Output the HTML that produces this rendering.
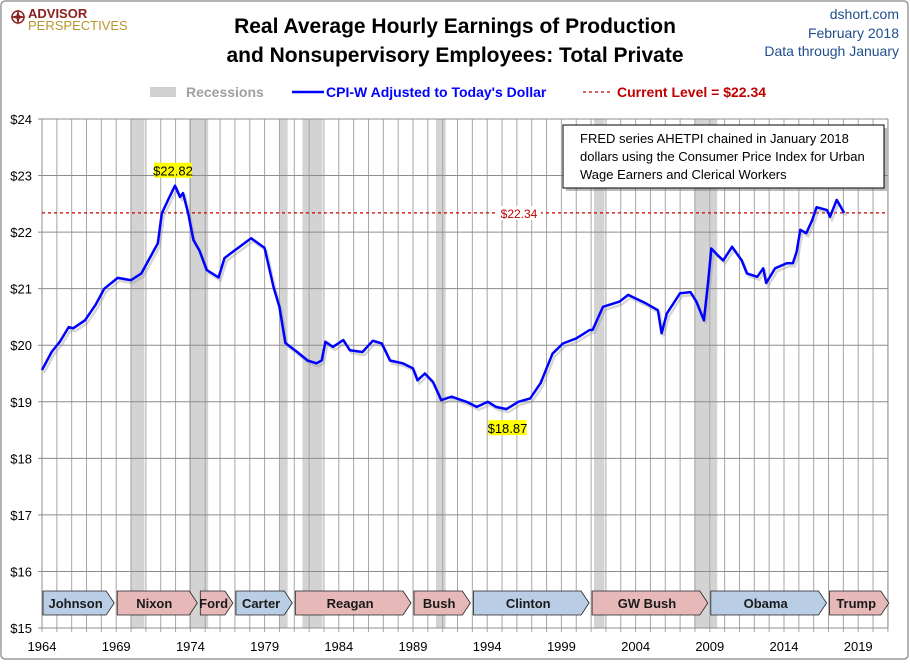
<!DOCTYPE html>
<html><head><meta charset="utf-8"><style>
body{margin:0;background:#fff;}
svg text{font-family:"Liberation Sans Narrow","Liberation Sans",sans-serif;}
</style></head><body>
<svg width="910" height="661" viewBox="0 0 910 661" xmlns="http://www.w3.org/2000/svg">
<rect x="1" y="1" width="907" height="658" fill="#fff" stroke="#9a9a9a" stroke-width="1.5" rx="4"/>
<g>
<circle cx="18" cy="17" r="6" fill="none" stroke="#8b2020" stroke-width="1.5"/>
<path d="M18 9 L19.5 15.5 L26 17 L19.5 18.5 L18 25 L16.5 18.5 L10 17 L16.5 15.5Z" fill="#8b2020"/>
<text x="28" y="18" font-size="13" font-weight="bold" fill="#8b2020">ADVISOR</text>
<text x="28" y="30" font-size="13" fill="#b8962e">PERSPECTIVES</text>
</g>
<text x="455" y="33" font-size="21" font-weight="bold" text-anchor="middle" fill="#000">Real Average Hourly Earnings of Production</text>
<text x="455" y="62" font-size="21" font-weight="bold" text-anchor="middle" fill="#000">and Nonsupervisory Employees: Total Private</text>
<text x="899" y="19" font-size="14" text-anchor="end" fill="#1f4e8c">dshort.com</text>
<text x="899" y="38" font-size="14" text-anchor="end" fill="#1f4e8c">February 2018</text>
<text x="899" y="56" font-size="14" text-anchor="end" fill="#1f4e8c">Data through January</text>
<g>
<rect x="150" y="87" width="26" height="10" fill="#d0d0d0"/>
<text x="186" y="97" font-size="14" font-weight="bold" fill="#a0a0a0">Recessions</text>
<line x1="292" y1="92" x2="324" y2="92" stroke="#0000ff" stroke-width="2.5"/>
<text x="326" y="97" font-size="14" font-weight="bold" fill="#0000ff">CPI-W Adjusted to Today's Dollar</text>
<line x1="583" y1="92" x2="613" y2="92" stroke="#cc0000" stroke-width="1.2" stroke-dasharray="3,3"/>
<text x="617" y="97" font-size="14" font-weight="bold" fill="#c00000">Current Level = $22.34</text>
</g>
<g id="plot"></g>
</svg>
<script>
const years=[1964.0,1964.65,1965.2,1965.8,1966.1,1966.9,1967.6,1968.2,1969.1,1970.0,1970.7,1971.3,1971.8,1972.07,1972.5,1972.96,1973.3,1973.5,1973.85,1974.2,1974.6,1975.1,1975.9,1976.3,1977.0,1978.1,1979.0,1979.6,1980.0,1980.4,1981.2,1981.9,1982.5,1982.85,1983.1,1983.6,1984.3,1984.75,1985.6,1986.3,1986.9,1987.45,1988.3,1989.0,1989.3,1989.8,1990.35,1990.9,1991.6,1992.6,1993.3,1994.05,1994.6,1995.3,1996.1,1996.9,1997.6,1998.4,1999.1,2000.0,2000.9,2001.1,2001.8,2002.9,2003.5,2004.7,2005.5,2005.75,2006.1,2007.0,2007.7,2008.1,2008.6,2008.9,2009.1,2009.5,2009.9,2010.5,2011.15,2011.5,2012.2,2012.6,2012.8,2013.4,2014.2,2014.6,2014.85,2015.1,2015.5,2015.9,2016.2,2016.9,2017.1,2017.55,2018.05];
const values=[19.56,19.88,20.06,20.32,20.30,20.44,20.71,21.0,21.19,21.15,21.27,21.56,21.8,22.33,22.57,22.82,22.62,22.69,22.33,21.86,21.68,21.33,21.2,21.54,21.68,21.89,21.72,21.03,20.68,20.04,19.88,19.73,19.68,19.73,20.06,19.97,20.09,19.91,19.88,20.08,20.03,19.73,19.68,19.59,19.38,19.5,19.35,19.03,19.09,19.0,18.91,19.0,18.91,18.87,19.0,19.06,19.33,19.85,20.03,20.12,20.27,20.27,20.68,20.77,20.89,20.74,20.62,20.21,20.56,20.92,20.94,20.77,20.44,21.15,21.71,21.6,21.5,21.74,21.5,21.27,21.21,21.36,21.1,21.36,21.45,21.45,21.65,22.04,21.98,22.21,22.44,22.39,22.27,22.57,22.34];
const yTicks=[15,16,17,18,19,20,21,22,23,24];
const xTickLabels=[1964,1969,1974,1979,1984,1989,1994,1999,2004,2009,2014,2019];
const recStart=[1969.95,1973.9,1980.0,1981.55,1990.55,2001.2,2007.95];
const recEnd=[1970.9,1975.2,1980.55,1982.9,1991.2,2001.9,2009.5];
const presNames=["Johnson","Nixon","Ford","Carter","Reagan","Bush","Clinton","GW Bush","Obama","Trump"];
const presStart=[1964,1969,1974.6,1977,1981,1989,1993,2001,2009,2017];
const presEnd=[1969,1974.6,1977,1981,1989,1993,2001,2009,2017,2021.2];
const presParty=["D","R","R","D","R","R","D","R","D","R"];
const currentLevel=22.34;
const peakVal=22.82, peakYear=1972.96, lowVal=18.87, lowYear=1995.3;

const X0=42,X1=888,Y0=119,Y1=628;
const xs=y=>X0+(y-1964)*14.84;
const ys=v=>Y0+(24-v)*(Y1-Y0)/9;
const NS="http://www.w3.org/2000/svg";
const g=document.getElementById('plot');
function mk(t,a,p){const e=document.createElementNS(NS,t);for(const k in a)e.setAttribute(k,a[k]);(p||g).appendChild(e);return e;}

// recessions
recStart.forEach((s,i)=>{
 const r=mk('rect',{x:xs(s),y:Y0,width:xs(recEnd[i])-xs(s),height:Y1-Y0,fill:'#d3d3d3'});
 
 
});
// vertical grid
for(let yr=1964;xs(yr)<=X1;yr++){
 const l=mk('line',{x1:xs(yr),y1:Y0,x2:xs(yr),y2:Y1+4,stroke:'#a6a6a6','stroke-width':1});
 
 
}
// horizontal grid + y labels
yTicks.forEach(v=>{
 const l=mk('line',{x1:X0-4,y1:ys(v),x2:X1,y2:ys(v),stroke:'#8c8c8c','stroke-width':1});
 
 
 const t=mk('text',{x:X0-10,y:ys(v)+5,'font-size':13,'text-anchor':'end',fill:'#000'});
 t.textContent='$'+v;
 
 
});
mk('line',{x1:X0,y1:Y0,x2:X0,y2:Y1,stroke:'#8c8c8c'});
mk('line',{x1:X1,y1:Y0,x2:X1,y2:Y1,stroke:'#8c8c8c'});
xTickLabels.forEach(yr=>{
 const t=mk('text',{x:xs(yr),y:651,'font-size':13,'text-anchor':'middle',fill:'#000'});
 t.textContent=yr;
 
 
});
// current level line
const cl=mk('line',{x1:X0,y1:ys(currentLevel),x2:X1,y2:ys(currentLevel),stroke:'#cc0000','stroke-width':1.2,'stroke-dasharray':'3,3'});


const clbg=mk('rect',{x:497,y:ys(currentLevel)-7,width:44,height:14,fill:'#fff'});
const clt=mk('text',{x:519,y:ys(currentLevel)+5,'font-size':12,'text-anchor':'middle',fill:'#c00000'});
clt.textContent='$'+currentLevel.toFixed(2);


// series
let d='';years.forEach((yr,i)=>{d+=(i?'L':'M')+xs(yr).toFixed(1)+' '+ys(values[i]).toFixed(1);});
const sh=mk('path',{d:d,fill:'none',stroke:'#999','stroke-width':2.5,opacity:0.4,transform:'translate(2,3)'});
const ln=mk('path',{d:d,fill:'none',stroke:'#0000ff','stroke-width':2.5,'stroke-linejoin':'round'});


// peak/low labels
function callout(txt,cx,cy,name){
 mk('rect',{x:cx-19,y:cy-8,width:38,height:15,fill:'#ffff00'});
 const t=mk('text',{x:cx,y:cy+5,'font-size':13,'text-anchor':'middle',fill:'#000'});
 t.textContent=txt;
 
 
}
callout('$'+peakVal.toFixed(2),xs(peakYear)-2,ys(peakVal)-15,'peak-label');
callout('$'+lowVal.toFixed(2),xs(lowYear)+1,ys(lowVal)+19,'low-label');
// annotation box
const ab=mk('g',{});


mk('rect',{x:566,y:128,width:321,height:63,fill:'#777',opacity:0.5},ab);
mk('rect',{x:563,y:125,width:321,height:63,fill:'#fff',stroke:'#000','stroke-width':1},ab);
['FRED series AHETPI chained in January 2018','dollars using the Consumer Price Index for Urban','Wage Earners and Clerical Workers'].forEach((s,i)=>{
 const t=mk('text',{x:580,y:143+i*18,'font-size':13,fill:'#000'},ab);
 t.textContent=s;
});
// presidents
presNames.forEach((n,i)=>{
 const a=xs(presStart[i])+1,b=Math.min(xs(presEnd[i]),X1+8)-2,t=591,bt=615;
 const p=mk('path',{d:`M${a} ${t}L${b-8} ${t}L${b} ${(t+bt)/2}L${b-8} ${bt}L${a} ${bt}Z`,fill:presParty[i]=='D'?'#b9cde5':'#e6b9b8',stroke:'#222','stroke-width':0.8});
 
 
 const tx=mk('text',{x:(a+b-6)/2,y:608,'font-size':13,'font-weight':'bold','text-anchor':'middle',fill:'#1a1a1a'});
 tx.textContent=n;
 
 
});
</script>
</body></html>
